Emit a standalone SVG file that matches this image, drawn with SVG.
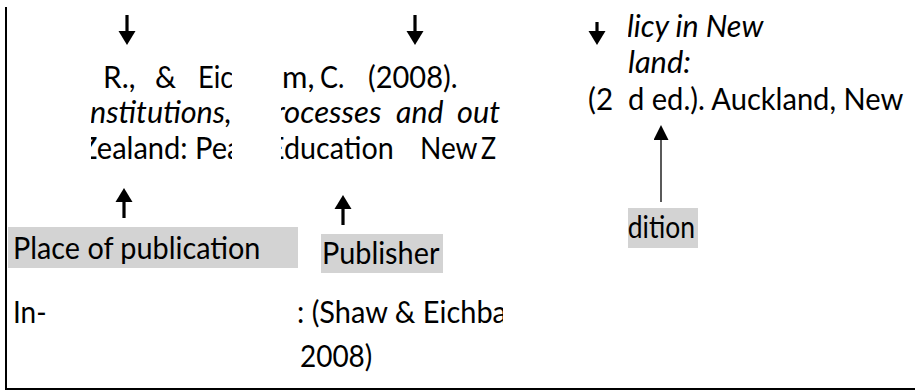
<svg xmlns="http://www.w3.org/2000/svg" width="915" height="390" viewBox="0 0 915 390">
<style>
  .t { font-family: Lato, "Open Sans", sans-serif; font-size: 30px; fill: #000; }
  .i { font-style: italic; }
  .box { fill: #d3d3d3; }
  .frame { stroke: #000; stroke-width: 2; fill: none; }
  .arr { stroke: #000; stroke-width: 3.2; fill: none; marker-end: url(#ah); }
  .thin { stroke: #000; stroke-width: 1.3; fill: none; marker-end: url(#ahs); }
</style>
<defs>
  <marker id="ah" markerUnits="userSpaceOnUse" markerWidth="14" markerHeight="18" refX="9" refY="9" orient="auto">
    <path d="M0,0.5 L14,9 L0,17.5 z" fill="#000"/>
  </marker>
  <marker id="ahs" markerUnits="userSpaceOnUse" markerWidth="15" markerHeight="15" refX="10" refY="7.5" orient="auto">
    <path d="M0,0 L15,7.5 L0,15 z" fill="#000"/>
  </marker>
  <clipPath id="c1"><rect x="91" y="50" width="141" height="125"/></clipPath>
  <clipPath id="c2"><rect x="281" y="50" width="222" height="125"/></clipPath>
  <clipPath id="c3"><rect x="628" y="0" width="287" height="130"/></clipPath>
  <clipPath id="c4"><rect x="628" y="200" width="70" height="55"/></clipPath>
  <clipPath id="c5"><rect x="281" y="290" width="222" height="90"/></clipPath>
</defs>

<g id="frame">
  <line class="frame" x1="6" y1="7" x2="6" y2="390"/>
  <line class="frame" x1="5" y1="389" x2="915" y2="389"/>
</g>

<g id="ref-col1" clip-path="url(#c1)">
  <text class="t" x="103" y="88" textLength="32.4" lengthAdjust="spacingAndGlyphs">R.,</text>
  <text class="t" x="155" y="88" textLength="21.1" lengthAdjust="spacingAndGlyphs">&amp;</text>
  <text class="t" x="198" y="88" textLength="35.3" lengthAdjust="spacingAndGlyphs">Eic</text>
  <text class="t i" x="82" y="123" textLength="150" lengthAdjust="spacingAndGlyphs">Institutions,</text>
  <text class="t" x="80" y="159" textLength="161.5" lengthAdjust="spacingAndGlyphs">Zealand: Pea</text>
</g>

<g id="ref-col2" clip-path="url(#c2)">
  <text class="t" x="282" y="88" textLength="32.5" lengthAdjust="spacingAndGlyphs">m,</text>
  <text class="t" x="320" y="88" textLength="24.3" lengthAdjust="spacingAndGlyphs">C.</text>
  <text class="t" x="368" y="88" textLength="89.5" lengthAdjust="spacingAndGlyphs">(2008).</text>
  <text class="t i" x="274" y="123" textLength="107.5" lengthAdjust="spacingAndGlyphs">rocesses</text>
  <text class="t i" x="396" y="123" textLength="47.4" lengthAdjust="spacingAndGlyphs">and</text>
  <text class="t i" x="457" y="123" textLength="43" lengthAdjust="spacingAndGlyphs">out</text>
  <text class="t" x="268" y="159" textLength="125.7" lengthAdjust="spacingAndGlyphs">Education</text>
  <text class="t" x="420" y="159" textLength="57.6" lengthAdjust="spacingAndGlyphs">New</text>
  <text class="t" x="481" y="159" textLength="15.1" lengthAdjust="spacingAndGlyphs">Z</text>
</g>

<g id="ref-col3a">
  <text class="t" x="588" y="110" textLength="25.1" lengthAdjust="spacingAndGlyphs">(2</text>
</g>

<g id="ref-col3" clip-path="url(#c3)">
  <text class="t i" x="627" y="37" textLength="136.4" lengthAdjust="spacingAndGlyphs">licy in New</text>
  <text class="t i" x="628" y="73" textLength="62.8" lengthAdjust="spacingAndGlyphs">land:</text>
  <text class="t" x="628" y="110" textLength="275.3" lengthAdjust="spacingAndGlyphs">d ed.). Auckland, New</text>
</g>

<g id="label-place">
  <rect class="box" x="8" y="227" width="290" height="41"/>
  <text class="t" x="13" y="259" textLength="247.4" lengthAdjust="spacingAndGlyphs">Place of publication</text>
</g>

<g id="label-publisher">
  <rect class="box" x="321" y="234" width="122" height="39"/>
  <text class="t" x="322" y="264" textLength="117.4" lengthAdjust="spacingAndGlyphs">Publisher</text>
</g>

<g id="label-edition" clip-path="url(#c4)">
  <rect class="box" x="628" y="208" width="70" height="40"/>
  <text class="t" x="613" y="238" textLength="82" lengthAdjust="spacingAndGlyphs">Edition</text>
</g>

<g id="intext">
  <text class="t" x="13" y="323" textLength="33.6" lengthAdjust="spacingAndGlyphs">In-</text>
  <g clip-path="url(#c5)">
    <text class="t" x="297" y="323" textLength="210" lengthAdjust="spacingAndGlyphs">: (Shaw &amp; Eichba</text>
  </g>
  <text class="t" x="300" y="367" textLength="72.3" lengthAdjust="spacingAndGlyphs">2008)</text>
</g>

<g id="connectors">
  <line class="arr" x1="127" y1="15" x2="127" y2="40"/>
  <line class="arr" x1="415" y1="15" x2="415" y2="40"/>
  <line class="arr" x1="597" y1="22" x2="597" y2="40"/>
  <line class="arr" x1="124" y1="218" x2="124" y2="193"/>
  <line class="arr" x1="343" y1="225" x2="343" y2="200"/>
  <line class="thin" x1="661" y1="202" x2="661" y2="130"/>
</g>
</svg>
